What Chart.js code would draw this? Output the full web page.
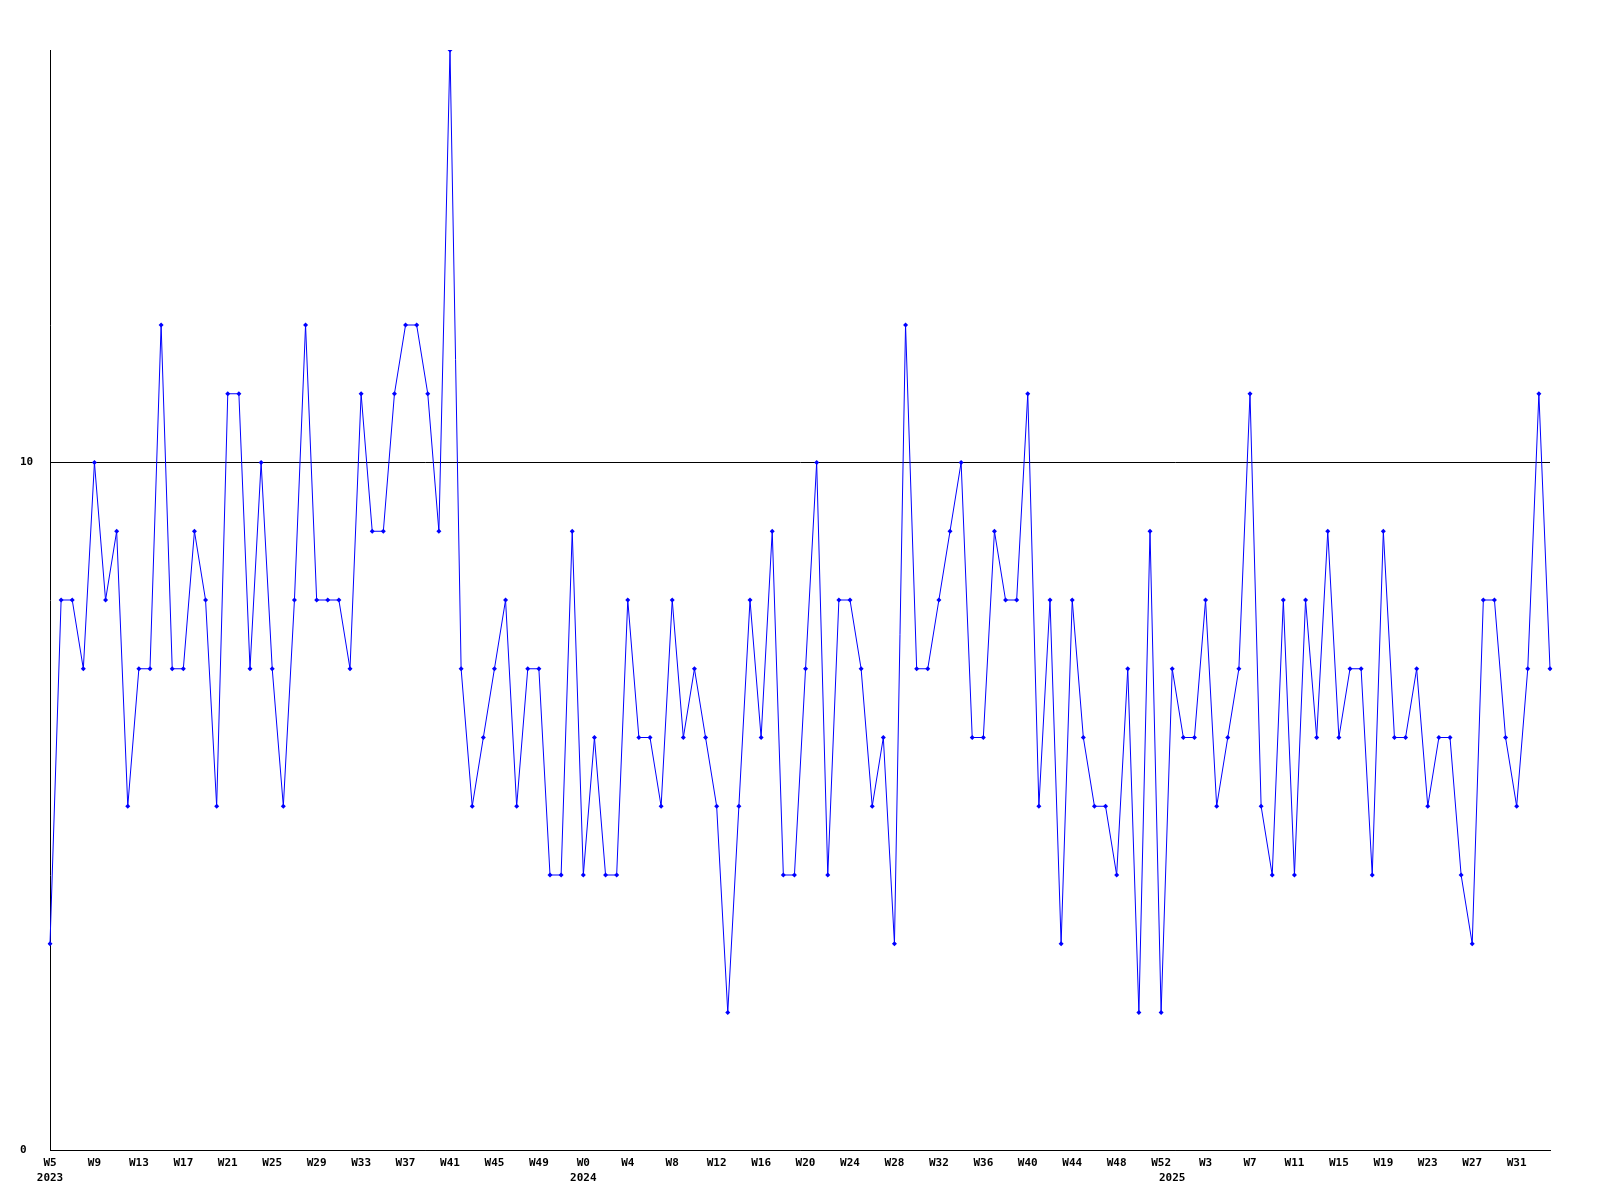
<!DOCTYPE html>
<html>
<head>
<meta charset="utf-8">
<script src="https://cdn.jsdelivr.net/npm/chart.js@4.4.1/dist/chart.umd.min.js"></script>
<style>
  html, body { margin: 0; padding: 0; background: #ffffff; }
  #wrap { width: 1600px; height: 1200px; }
</style>
</head>
<body>
<div id="wrap"><canvas id="c" width="1600" height="1200"></canvas></div>
<script>
// Week numbers per year (weekly data, labels W<week>)
const weeks2023 = [5,6,7,8,9,10,11,12,13,14,15,16,17,18,19,20,21,22,23,24,25,26,27,28,29,30,31,32,33,34,35,36,37,38,39,40,41,42,43,44,45,46,47,48,49,50,51,52];
const weeks2024 = [0,1,2,3,4,5,6,7,8,9,10,11,12,13,14,15,16,17,18,19,20,21,22,23,24,25,26,27,28,29,30,31,32,33,34,35,36,37,38,39,40,41,42,43,44,45,46,47,48,49,50,51,52];
const weeks2025 = [0,1,2,3,4,5,6,7,8,9,10,11,12,13,14,15,16,17,18,19,20,21,22,23,24,25,26,27,28,29,30,31,32,33,34];
const years = ["2023", "2024", "2025"];

// Weekly values
const values2023 = [3,8,8,7,10,8,9,5,7,7,12,7,7,9,8,5,11,11,7,10,7,5,8,12,8,8,8,7,11,9,9,11,12,12,11,9,16,7,5,6,7,8,5,7,7,4,4,9];
const values2024 = [4,6,4,4,8,6,6,5,8,6,7,6,5,2,5,8,6,9,4,4,7,10,4,8,8,7,5,6,3,12,7,7,8,9,10,6,6,9,8,8,11,5,8,3,8,6,5,5,4,7,2,9,2];
const values2025 = [7,6,6,8,5,6,7,11,5,4,8,4,8,6,9,6,7,7,4,9,6,6,7,5,6,6,4,3,8,8,6,5,7,11,7];

// Axis ticks
const yTickValues = [0, 10];
const yMin = 0, yMax = 16;
const labelEvery = 4;

// Build category labels
const weekLabels = [];
const yearStart = {};
[[weeks2023, years[0]], [weeks2024, years[1]], [weeks2025, years[2]]].forEach(([wk, yr]) => {
  yearStart[weekLabels.length] = yr;
  wk.forEach(w => weekLabels.push('W' + w));
});
const allValues = values2023.concat(values2024, values2025);

const FONT = { family: "'DejaVu Sans Mono', 'Liberation Mono', monospace", size: 11, weight: 'bold', lineHeight: 1.35 };

new Chart(document.getElementById('c'), {
  type: 'line',
  data: {
    labels: weekLabels,
    datasets: [{
      data: allValues,
      borderColor: '#0000ff',
      backgroundColor: '#0000ff',
      borderWidth: 1,
      pointStyle: 'rectRot',
      pointRadius: 2.5,
      pointBorderWidth: 0,
      pointHoverRadius: 2.5,
      tension: 0,
      fill: false
    }]
  },
  options: {
    responsive: false,
    animation: false,
    devicePixelRatio: 1,
    events: [],
    layout: { padding: { left: 20, right: 50, top: 50, bottom: 0 } },
    plugins: { legend: { display: false }, tooltip: { enabled: false }, title: { display: false } },
    scales: {
      x: {
        type: 'category',
        offset: false,
        grid: { display: false, drawTicks: false },
        border: { display: true, color: '#000000', width: 1 },
        afterFit: s => { s.height = 50; },
        ticks: {
          autoSkip: false,
          maxRotation: 0,
          minRotation: 0,
          padding: 6,
          color: '#000000',
          font: FONT,
          callback: function (val, idx) {
            const w = idx % labelEvery === 0 ? weekLabels[idx] : '';
            const yr = yearStart[idx];
            if (yr !== undefined) return [w, yr];
            return w === '' ? null : w;
          }
        }
      },
      y: {
        min: yMin,
        max: yMax,
        afterFit: s => { s.width = 30; },
        afterBuildTicks: s => { s.ticks = yTickValues.map(v => ({ value: v })); },
        grid: { display: true, color: '#000000', lineWidth: 1, drawTicks: false },
        border: { display: true, color: '#000000', width: 1 },
        ticks: {
          crossAlign: 'far',
          padding: 0,
          color: '#000000',
          font: FONT,
          callback: v => String(v)
        }
      }
    }
  }
});
</script>
</body>
</html>
